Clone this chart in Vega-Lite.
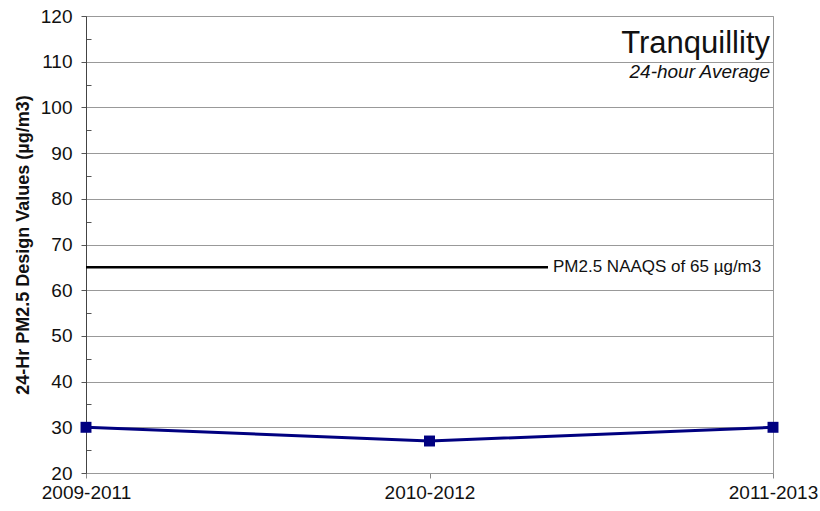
{
  "$schema": "https://vega.github.io/schema/vega-lite/v6.json",
  "width": 687,
  "height": 457,
  "autosize": "none",
  "padding": {"left": 86, "top": 16, "right": 47, "bottom": 38},
  "background": "white",
  "config": {
    "font": "Liberation Sans",
    "view": {"stroke": "#999", "strokeWidth": 1}
  },
  "title": {
    "text": "Tranquillity",
    "subtitle": "24-hour Average",
    "anchor": "end",
    "frame": "group",
    "fontSize": 31,
    "fontWeight": "normal",
    "color": "#111",
    "subtitleFontSize": 19,
    "subtitleFontStyle": "italic",
    "subtitleColor": "#111",
    "subtitlePadding": 3,
    "offset": -76,
    "dx": -3
  },
  "datasets": {
    "series": [
      {"period": "2009-2011", "idx": 0, "value": 30},
      {"period": "2010-2012", "idx": 1, "value": 27},
      {"period": "2011-2013", "idx": 2, "value": 30}
    ],
    "naaqs": [
      {"start": 0, "end": 1.345, "level": 65, "label": "PM2.5 NAAQS of 65 µg/m3"}
    ]
  },
  "layer": [
    {
      "data": {"name": "naaqs"},
      "mark": {"type": "rule", "color": "#000", "strokeWidth": 2.5},
      "encoding": {
        "x": {"field": "start", "type": "quantitative"},
        "x2": {"field": "end"},
        "y": {
          "field": "level",
          "type": "quantitative",
          "axis": {
            "orient": "left",
            "values": [25, 35, 45, 55, 65, 75, 85, 95, 105, 115],
            "tickSize": -5,
            "tickColor": "#555",
            "labels": false,
            "domain": false,
            "grid": false,
            "title": null
          }
        }
      }
    },
    {
      "data": {"name": "naaqs"},
      "mark": {"type": "text", "align": "left", "baseline": "middle", "dx": 5, "fontSize": 17, "color": "#111"},
      "encoding": {
        "x": {"field": "end", "type": "quantitative"},
        "y": {"field": "level", "type": "quantitative", "axis": null},
        "text": {"field": "label"}
      }
    },
    {
      "data": {"name": "series"},
      "mark": {
        "type": "line",
        "color": "#000080",
        "strokeWidth": 3,
        "point": {"shape": "square", "size": 120, "color": "#000080", "filled": true, "opacity": 1}
      },
      "encoding": {
        "x": {
          "field": "idx",
          "type": "quantitative",
          "scale": {"domain": [0, 2], "nice": false, "zero": false},
          "axis": {
            "values": [0, 1, 2],
            "labelExpr": "['2009-2011','2010-2012','2011-2013'][datum.value]",
            "grid": false,
            "title": null,
            "tickSize": 5,
            "tickColor": "#888",
            "domainColor": "#999",
            "labelFontSize": 19,
            "labelColor": "#111",
            "labelPadding": 5,
            "labelOverlap": false,
            "labelBound": false,
            "labelFlush": false
          }
        },
        "y": {
          "field": "value",
          "type": "quantitative",
          "scale": {"domain": [20, 120], "nice": false, "zero": false},
          "axis": {
            "orient": "left",
            "values": [20, 30, 40, 50, 60, 70, 80, 90, 100, 110, 120],
            "grid": true,
            "title": "24-Hr PM2.5 Design Values (µg/m3)",
            "titleFontSize": 18,
            "titleFontWeight": "bold",
            "titleColor": "#111",
            "titlePadding": 8,
            "labelFontSize": 19,
            "labelColor": "#111",
            "labelPadding": 9,
            "tickSize": 5,
            "tickColor": "#555",
            "domainColor": "#444",
            "gridColor": "#999",
            "gridWidth": 1,
            "gridOpacity": 1
          }
        }
      }
    }
  ],
  "resolve": {"axis": {"y": "independent"}}
}
